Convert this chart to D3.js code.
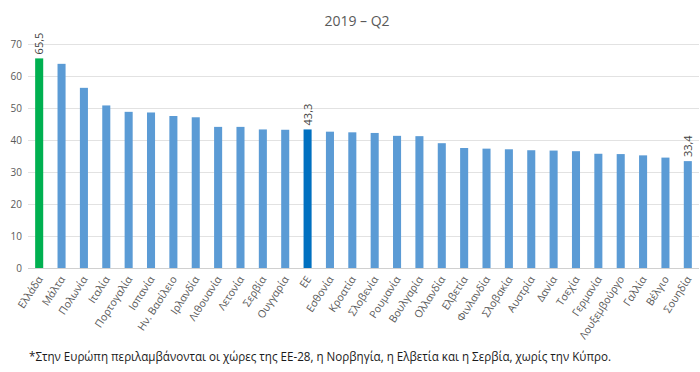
<!DOCTYPE html>
<html>
<head>
<meta charset="utf-8">
<script src="https://cdn.jsdelivr.net/npm/d3@7"></script>
<style>
  body { margin: 0; background: #fff; }
  text { font-family: "Open Sans", "Noto Sans", sans-serif; }
</style>
</head>
<body>
<div id="chart"></div>
<script>
// countries, sorted as in the original
var countries = ["Ελλάδα", "Μάλτα", "Πολωνία", "Ιταλία", "Πορτογαλία", "Ισπανία",
  "Ην. Βασίλειο", "Ιρλανδία", "Λιθουανία", "Λετονία", "Σερβία", "Ουγγαρία", "ΕΕ",
  "Εσθονία", "Κροατία", "Σλοβενία", "Ρουμανία", "Βουλγαρία", "Ολλανδία", "Ελβετία",
  "Φινλανδία", "Σλοβακία", "Αυστρία", "Δανία", "Τσεχία", "Γερμανία", "Λουξεμβούργο",
  "Γαλλία", "Βέλγιο", "Σουηδία"];
var values = [65.5, 63.8, 56.3, 50.8, 48.8, 48.6, 47.5, 47.1, 44.1, 44.1, 43.3, 43.2, 43.3,
  42.6, 42.4, 42.2, 41.3, 41.2, 39.0, 37.5, 37.3, 37.1, 36.8, 36.7, 36.5, 35.7, 35.6,
  35.2, 34.5, 33.4];
var yTicks = [0, 10, 20, 30, 40, 50, 60, 70];
var labelled = ["Ελλάδα", "ΕΕ", "Σουηδία"]; // bars with a value on top
var title = "2019 – Q2";
var footnote = "*Στην Ευρώπη περιλαμβάνονται οι χώρες της ΕΕ-28, η Νορβηγία, η Ελβετία και η Σερβία, χωρίς την Κύπρο.";

var width = 700, height = 372;
var margin = {top: 44, right: 1, bottom: 104, left: 28};

var svg = d3.select("#chart").append("svg")
  .attr("width", width)
  .attr("height", height);

var x = d3.scaleBand()
  .domain(countries)
  .range([margin.left, width - margin.right])
  .paddingInner(0.64)
  .paddingOuter(0.32);

var y = d3.scaleLinear()
  .domain([0, 70])
  .range([height - margin.bottom, margin.top]);

// gridlines
svg.append("g")
  .selectAll("line")
  .data(yTicks)
  .enter()
  .append("line")
  .attr("x1", margin.left)
  .attr("x2", width - margin.right)
  .attr("y1", function(d) { return y(d) + 0.5; })
  .attr("y2", function(d) { return y(d) + 0.5; })
  .attr("stroke", function(d) { return d === 0 ? "#d0d0d0" : "#e2e2e2"; })
  .attr("stroke-width", 1);

// y axis labels
var yAxis = svg.append("g")
  .attr("transform", "translate(" + (margin.left - 6) + ",0)")
  .call(d3.axisLeft(y).tickValues(yTicks).tickSize(0).tickPadding(0));
yAxis.select(".domain").remove();
yAxis.selectAll("text")
  .attr("fill", "#595959")
  .style("font-size", "10px");

// bars
svg.append("g")
  .selectAll("rect")
  .data(countries)
  .enter()
  .append("rect")
  .attr("x", function(d) { return x(d); })
  .attr("width", x.bandwidth())
  .attr("y", function(d, i) { return y(values[i]); })
  .attr("height", function(d, i) { return y(0) - y(values[i]); })
  .attr("fill", function(d) {
    if (d === "Ελλάδα") return "#00b050";
    if (d === "ΕΕ") return "#0070c0";
    return "#5b9bd5";
  });

// value labels (rotated)
svg.append("g")
  .selectAll("text")
  .data(countries.filter(function(d) { return labelled.indexOf(d) >= 0; }))
  .enter()
  .append("text")
  .attr("transform", function(d) {
    var v = values[countries.indexOf(d)];
    return "translate(" + (x(d) + x.bandwidth() / 2 + 4) + "," + (y(v) - 4) + ") rotate(-90)";
  })
  .attr("fill", "#404040")
  .style("font-size", "11px")
  .text(function(d) { return String(values[countries.indexOf(d)]).replace(".", ","); });

// category labels
svg.append("g")
  .selectAll("text")
  .data(countries)
  .enter()
  .append("text")
  .attr("transform", function(d) {
    return "translate(" + (x(d) + x.bandwidth() / 2 + 4) + "," + (y(0) + 11) + ") rotate(-57)";
  })
  .attr("text-anchor", "end")
  .attr("fill", "#595959")
  .style("font-size", "10.5px")
  .text(function(d) { return d; });

// title
svg.append("text")
  .attr("x", 357)
  .attr("y", 26)
  .attr("text-anchor", "middle")
  .attr("fill", "#595959")
  .style("font-size", "14px")
  .text(title);

// footnote
svg.append("text")
  .attr("x", 29)
  .attr("y", 361)
  .attr("fill", "#1a1a1a")
  .style("font-size", "12px")
  .attr("textLength", 582)
  .attr("lengthAdjust", "spacingAndGlyphs")
  .text(footnote);
</script>
</body>
</html>
